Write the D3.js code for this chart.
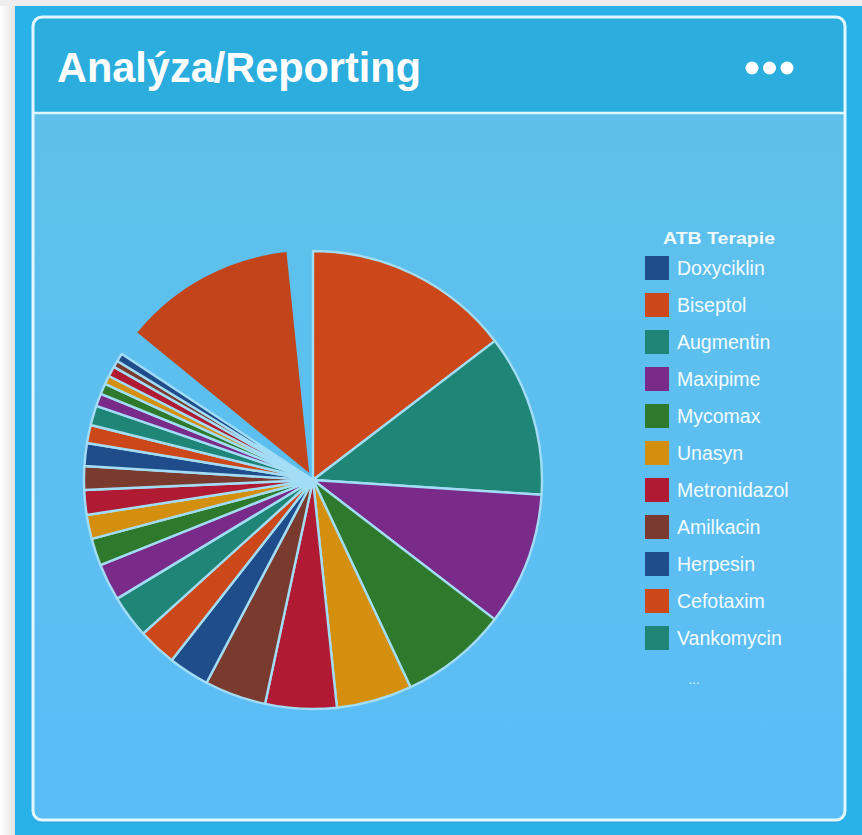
<!DOCTYPE html>
<html>
<head>
<meta charset="utf-8">
<script src="https://cdn.jsdelivr.net/npm/d3@7"></script>
<style>
  html, body { margin: 0; padding: 0; background: #ffffff; }
  svg { display: block; }
</style>
</head>
<body>
<div id="chart"></div>
<script>
// ---- data ----
const title = "Analýza/Reporting";
const legendTitle = "ATB Terapie";
const categories = [
  "Doxyciklin", "Biseptol", "Augmentin", "Maxipime", "Mycomax", "Unasyn",
  "Metronidazol", "Amilkacin", "Herpesin", "Cefotaxim", "Vankomycin",
  "ATB 12", "ATB 13", "ATB 14", "ATB 15", "ATB 16", "ATB 17", "ATB 18",
  "ATB 19", "ATB 20", "ATB 21", "ATB 22", "ATB 23", "ATB 24", "ATB 25", "ATB 26"
];
const values = [
  0, 52.6, 41.1, 33.8, 27.3, 19.2,
  18.1, 15.6, 10.4, 9.8, 10.9,
  9.4, 6.9, 6.1, 6.3, 6.0, 5.8, 4.6,
  5.0, 3.2, 2.7, 2.2, 2.6, 1.7, 2.1, 56.6
];
const explodedIndex = 25;
const legendCount = 11;   // entries shown before "..."
const palette = ["#1f4d8c", "#cc481b", "#1f8577", "#7a2a89", "#2e7a2c", "#d48f0e", "#b01a33", "#7a3a2d"];

// ---- layout ----
const W = 862, H = 835;
const svg = d3.select("#chart").append("svg").attr("width", W).attr("height", H);
const defs = svg.append("defs");

const shadowGrad = defs.append("linearGradient").attr("id", "leftShade").attr("x1", 0).attr("x2", 1).attr("y1", 0).attr("y2", 0);
shadowGrad.append("stop").attr("offset", "0%").attr("stop-color", "#ffffff");
shadowGrad.append("stop").attr("offset", "100%").attr("stop-color", "#e4e4e4");

const bodyGrad = defs.append("linearGradient").attr("id", "bodyGrad").attr("x1", 0).attr("x2", 0).attr("y1", 0).attr("y2", 1);
bodyGrad.append("stop").attr("offset", "0%").attr("stop-color", "#5fc1e8");
bodyGrad.append("stop").attr("offset", "100%").attr("stop-color", "#5bbdf7");

svg.append("rect").attr("x", 0).attr("y", 0).attr("width", W).attr("height", H).attr("fill", "#ffffff");
svg.append("rect").attr("x", 0).attr("y", 0).attr("width", 15).attr("height", H).attr("fill", "url(#leftShade)");
svg.append("rect").attr("x", 0).attr("y", 0).attr("width", W).attr("height", 6).attr("fill", "#eeeeee");
svg.append("rect").attr("x", 15).attr("y", 6).attr("width", W - 15).attr("height", H - 6).attr("fill", "#29b1ea");

// panel
const px = 33, py = 17, pw = 812, ph = 803, pr = 9, headerH = 96;
defs.append("clipPath").attr("id", "panelClip")
  .append("rect").attr("x", px).attr("y", py).attr("width", pw).attr("height", ph).attr("rx", pr);
svg.append("rect").attr("x", px).attr("y", py + 3).attr("width", pw).attr("height", ph).attr("rx", pr)
  .attr("fill", "#3d9fd2").attr("opacity", 0.6);
svg.append("rect").attr("x", px).attr("y", py).attr("width", pw).attr("height", ph).attr("rx", pr)
  .attr("fill", "url(#bodyGrad)");
svg.append("rect").attr("clip-path", "url(#panelClip)")
  .attr("x", px).attr("y", py).attr("width", pw).attr("height", headerH).attr("fill", "#2badde");
svg.append("line").attr("x1", px).attr("x2", px + pw).attr("y1", py + headerH).attr("y2", py + headerH)
  .attr("stroke", "#dff6fd").attr("stroke-width", 2.5);
svg.append("rect").attr("x", px).attr("y", py).attr("width", pw).attr("height", ph).attr("rx", pr)
  .attr("fill", "none").attr("stroke", "#e3f8fd").attr("stroke-width", 3);

// title
svg.append("text").attr("x", 57).attr("y", 82)
  .attr("font-family", "Liberation Sans, Arial, sans-serif").attr("font-weight", "bold")
  .attr("font-size", 43).attr("fill", "#ffffff")
  .attr("textLength", 364).attr("lengthAdjust", "spacingAndGlyphs")
  .text(title);

// menu dots
const dotX = d3.scalePoint().domain([0, 1, 2]).range([752, 787]);
svg.append("g").selectAll("circle").data([0, 1, 2]).join("circle")
  .attr("cx", d => dotX(d)).attr("cy", 68).attr("r", 6.5).attr("fill", "#ffffff");

// ---- pie ----
const cx = 313, cy = 480, R = 229;
const data = categories.map((c, i) => ({ name: c, value: values[i], color: palette[i % palette.length], index: i }));
const pie = d3.pie().sort(null).value(d => d.value);
const arcs = pie(data);
const arcGen = d3.arc().innerRadius(0).outerRadius(R);
const explodedArc = d3.arc().innerRadius(0).outerRadius(R - 7).padAngle(0.205);

const g = svg.append("g").attr("transform", `translate(${cx},${cy})`);
g.selectAll("path").data(arcs.filter(a => a.data.value > 0)).join("path")
  .attr("d", d => d.data.index === explodedIndex ? explodedArc(d) : arcGen(d))
  .attr("transform", d => {
    if (d.data.index !== explodedIndex) return null;
    const mid = (d.startAngle + d.endAngle) / 2;
    const off = 8;
    return `translate(${Math.sin(mid) * off},${-Math.cos(mid) * off})`;
  })
  .attr("fill", d => d.data.index === explodedIndex ? d3.color(d.data.color).darker(0.15) : d.data.color)
  .attr("stroke", d => d.data.index === explodedIndex ? "none" : "#a3ddf5")
  .attr("stroke-width", 2.4)
  .attr("stroke-linejoin", "round");

// ---- legend ----
const legendItems = data.slice(0, legendCount);
const ly = d3.scalePoint().domain(legendItems.map(d => d.name)).range([268, 638]);
const lg = svg.append("g");
lg.append("text").attr("x", 719).attr("y", 244).attr("text-anchor", "middle")
  .attr("font-family", "Liberation Sans, Arial, sans-serif").attr("font-weight", "bold")
  .attr("font-size", 17).attr("fill", "#eef9ff")
  .attr("textLength", 112).attr("lengthAdjust", "spacingAndGlyphs").text(legendTitle);
const rows = lg.selectAll("g.row").data(legendItems).join("g").attr("class", "row")
  .attr("transform", d => `translate(0,${ly(d.name)})`);
rows.append("rect").attr("x", 645).attr("y", -12).attr("width", 24).attr("height", 24).attr("fill", d => d.color);
rows.append("text").attr("x", 677).attr("y", 7)
  .attr("font-family", "Liberation Sans, Arial, sans-serif").attr("font-size", 19.5)
  .attr("fill", "#f2fbff").text(d => d.name);
lg.append("text").attr("x", 694).attr("y", 684).attr("text-anchor", "middle")
  .attr("font-family", "Liberation Sans, Arial, sans-serif").attr("font-size", 14)
  .attr("fill", "#d8f4ff").text("...");
</script>
</body>
</html>
